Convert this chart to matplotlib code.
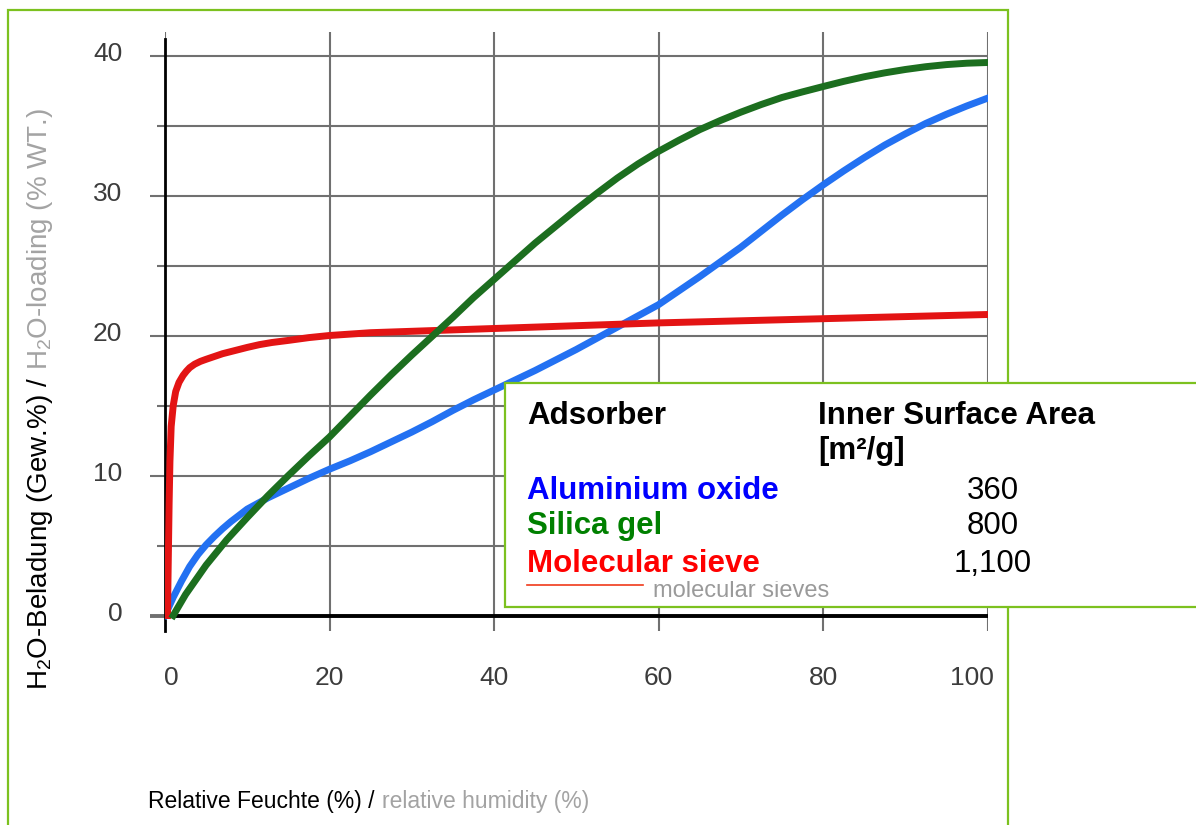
import matplotlib
matplotlib.use("Agg")
import matplotlib.pyplot as plt
from matplotlib.transforms import ScaledTranslation, Bbox
import matplotlib.patches as mpatches
from matplotlib.lines import Line2D

# ---------------- data ----------------
rh_alumina = [0, 1, 2, 3, 4, 5, 6, 7, 8, 10, 12.5, 15, 17.5, 20, 22.5, 25, 27.5, 30,
              32.5, 35, 37.5, 40, 42.5, 45, 47.5, 50, 52.5, 55, 57.5, 60, 62.5, 65,
              67.5, 70, 72.5, 75, 77.5, 80, 82.5, 85, 87.5, 90, 92.5, 95, 97.5, 100]
load_alumina = [0, 1.3, 2.45, 3.5, 4.35, 5.05, 5.65, 6.2, 6.7, 7.6, 8.4, 9.1, 9.8, 10.45,
                11.05, 11.7, 12.4, 13.1, 13.85, 14.65, 15.4, 16.1, 16.8, 17.5, 18.25,
                19.0, 19.8, 20.6, 21.4, 22.2, 23.2, 24.2, 25.25, 26.3, 27.45, 28.6,
                29.7, 30.75, 31.75, 32.7, 33.6, 34.4, 35.15, 35.8, 36.4, 36.95]

rh_silica = [1, 2.5, 5, 7.5, 10, 12.5, 15, 17.5, 20, 22.5, 25, 27.5, 30, 32.5, 35, 37.5,
             40, 42.5, 45, 47.5, 50, 52.5, 55, 57.5, 60, 62.5, 65, 67.5, 70, 72.5, 75,
             77.5, 80, 82.5, 85, 87.5, 90, 92.5, 95, 97.5, 100]
load_silica = [0, 1.5, 3.6, 5.4, 7.0, 8.55, 10.0, 11.4, 12.75, 14.25, 15.75, 17.2, 18.6,
               19.95, 21.3, 22.7, 24.0, 25.3, 26.6, 27.8, 29.0, 30.15, 31.25, 32.25,
               33.15, 33.95, 34.7, 35.35, 35.95, 36.5, 37.0, 37.4, 37.78, 38.15, 38.48,
               38.76, 39.0, 39.2, 39.35, 39.45, 39.5]

rh_sieve = [0.3, 0.4, 0.5, 0.6, 0.75, 1.0, 1.3, 1.7, 2.2, 2.6, 3.0, 3.6, 4.3, 5, 6, 7,
            8, 9, 10, 11.5, 13, 15, 17.5, 20, 22.5, 25, 30, 35, 40, 50, 60, 70, 80,
            90, 100]
load_sieve = [0, 4, 8, 11, 13.5, 15.0, 16.0, 16.65, 17.15, 17.45, 17.7, 17.95, 18.15,
              18.3, 18.5, 18.7, 18.85, 19.0, 19.15, 19.35, 19.5, 19.65, 19.85, 20.0,
              20.1, 20.2, 20.3, 20.4, 20.5, 20.7, 20.9, 21.05, 21.2, 21.35, 21.5]

x_ticks = [0, 20, 40, 60, 80, 100]
y_ticks = [0, 10, 20, 30, 40]
y_minor = [5, 15, 25, 35]

adsorbers = ["Aluminium oxide", "Silica gel", "Molecular sieve"]
surface_area = ["360", "800", "1,100"]
header_left = "Adsorber"
header_right = ["Inner Surface Area", "[m²/g]"]

col_alumina = "#2371f2"
col_silica = "#1c6e1f"
col_sieve = "#e31414"
legend_colors = ["#0000ff", "#008000", "#ff0000"]
frame_green = "#7cc11f"
grid_col = "#707070"

# ---------------- fonts ----------------
plt.rcParams["font.family"] = ["Liberation Sans", "DejaVu Sans"]
plt.rcParams["mathtext.fontset"] = "custom"
plt.rcParams["mathtext.rm"] = "Liberation Sans"
plt.rcParams["mathtext.it"] = "Liberation Sans:italic"
plt.rcParams["mathtext.bf"] = "Liberation Sans:bold"

W, H = 1196, 825
fig = plt.figure(figsize=(W / 100, H / 100), dpi=100)
fig.patch.set_facecolor("white")

# axes: x 0..100 -> px 165..987.5 ; y -1.1..41.7 -> px 630.9..31.7
ax = fig.add_axes([165 / W, (H - 630.9) / H, 822.5 / W, 599.2 / H])
ax.set_xlim(0, 100)
ax.set_ylim(-1.1, 41.7)
for s in ["top", "right", "bottom"]:
    ax.spines[s].set_visible(False)
ax.spines["left"].set_bounds(-1.1, 41.2)
ax.spines["left"].set_color("black")
ax.spines["left"].set_linewidth(2.0)

ax.set_xticks(x_ticks)
ax.set_yticks(y_ticks)
ax.set_yticks(y_minor, minor=True)
ax.tick_params(axis="x", length=0, pad=25, labelsize=19, labelcolor="#3c3c3c")
ax.tick_params(axis="y", which="major", direction="out", length=10.8, width=1.5,
               color=grid_col, pad=20, labelsize=19, labelcolor="#3c3c3c")
ax.tick_params(axis="y", which="minor", direction="out", length=5.8, width=1.5,
               color=grid_col)
ax.grid(True, axis="y", which="both", color=grid_col, lw=1.5)
ax.grid(True, axis="x", which="major", color=grid_col, lw=1.5)
ax.set_axisbelow(True)
ax.axhline(0, color="black", lw=2.8, zorder=1.5)
t0 = ax.yaxis.get_major_ticks()[0]
t0.tick1line.set_color("black")
t0.tick1line.set_markeredgewidth(2.8)

up = ScaledTranslation(0, 4 / 100, fig.dpi_scale_trans)
for lbl in ax.get_yticklabels():
    lbl.set_transform(lbl.get_transform() + up)
xl = ax.get_xticklabels()
xl[0].set_transform(xl[0].get_transform() + ScaledTranslation(6 / 100, 0, fig.dpi_scale_trans))
xl[-1].set_transform(xl[-1].get_transform() + ScaledTranslation(-16 / 100, 0, fig.dpi_scale_trans))

ax.plot(rh_alumina, load_alumina, color=col_alumina, lw=5, zorder=3,
        solid_joinstyle="round")
ax.plot(rh_silica, load_silica, color=col_silica, lw=5, zorder=4,
        solid_joinstyle="round")
ax.plot(rh_sieve, load_sieve, color=col_sieve, lw=5, zorder=3.5,
        solid_joinstyle="round")

# ---------------- axis labels (two-colour) ----------------
fig.canvas.draw()
r = fig.canvas.get_renderer()
t1 = fig.text(40 / W, 1 - 690 / H, r"H$_2$O-Beladung (Gew.%) /", rotation=90,
              ha="center", va="bottom", fontsize=20, color="black")
bb = t1.get_window_extent(renderer=r)
fig.text(40 / W, (bb.y1 + 7) / H, r"H$_2$O-loading (% WT.)", rotation=90,
         ha="center", va="bottom", fontsize=20, color="#a3a3a3")

t3 = fig.text(148 / W, 1 - 808 / H, "Relative Feuchte (%) /", ha="left",
              va="baseline", fontsize=16.5, color="black")
bb3 = t3.get_window_extent(renderer=r)
fig.text((bb3.x1 + 8) / W, 1 - 808 / H, "relative humidity (%)", ha="left",
         va="baseline", fontsize=16.5, color="#a3a3a3")

# ---------------- outer frame ----------------
fig.add_artist(mpatches.Rectangle((8 / W, -0.05), (1008 - 8) / W, 1.05 - 10 / H,
                                  transform=fig.transFigure, fill=False,
                                  edgecolor=frame_green, lw=1.6, zorder=1))

# ---------------- legend table ----------------
fig.add_artist(mpatches.Rectangle((505 / W, 1 - 607 / H), (1210 - 505) / W, (607 - 383) / H,
                                  transform=fig.transFigure, facecolor="white",
                                  edgecolor=frame_green, lw=1.6, zorder=2))
fig.text(527 / W, 1 - 424 / H, header_left, fontsize=22.5, weight="bold",
         va="baseline", ha="left", zorder=3)
fig.text(818 / W, 1 - 424 / H, header_right[0], fontsize=22.5, weight="bold",
         va="baseline", ha="left", zorder=3)
fig.text(818 / W, 1 - 459 / H, header_right[1], fontsize=22.5, weight="bold",
         va="baseline", ha="left", zorder=3)
row_base = [499, 534, 572]
for name, val, c, yb in zip(adsorbers, surface_area, legend_colors, row_base):
    fig.text(527 / W, 1 - yb / H, name, fontsize=22.5, weight="bold", color=c,
             va="baseline", ha="left", zorder=3)
    fig.text(993 / W, 1 - yb / H, val, fontsize=22.5, color="black",
             va="baseline", ha="center", zorder=3)

# remnants of the original legend showing through
fig.add_artist(Line2D([527 / W, 643 / W], [1 - 585 / H, 1 - 585 / H],
                      transform=fig.transFigure, color="#f03a1a", lw=1.2, zorder=3))
rem = fig.text(653 / W, 1 - 597 / H, "molecular sieves", fontsize=17, color="#9a9a9a",
               va="baseline", ha="left", zorder=3)
rem.set_clip_box(Bbox.from_extents(640, 0, 840, H - 581))
rem.set_clip_on(True)

fig.savefig("out.png", dpi=100, facecolor="white")
